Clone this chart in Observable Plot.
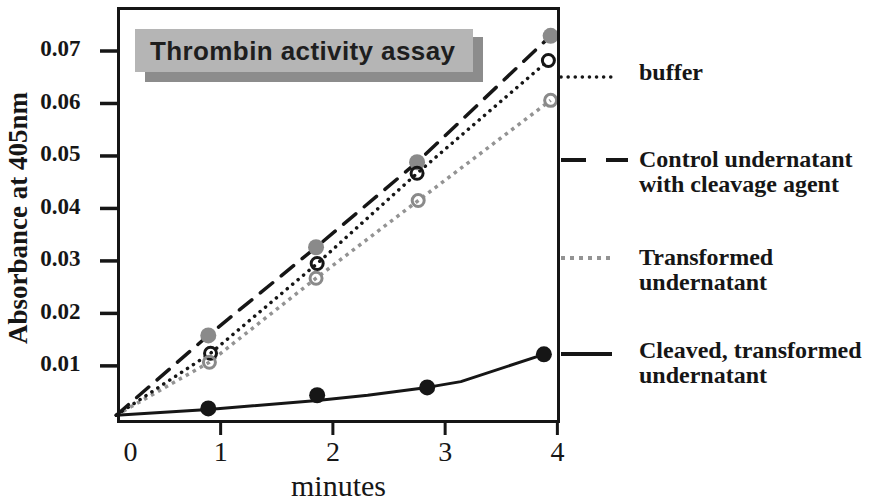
<!DOCTYPE html>
<html><head><meta charset="utf-8">
<script src="https://cdn.jsdelivr.net/npm/d3@7"></script>
<script src="https://cdn.jsdelivr.net/npm/@observablehq/plot@0.6"></script>
<style>
html,body{margin:0;padding:0;background:#fff;}
#wrap{position:relative;width:871px;height:502px;overflow:hidden;background:#fff;}
#overlay{position:absolute;left:0;top:0;pointer-events:none;}
</style></head><body><div id="wrap"></div>
<script>
// ---- text ----
const title = "Thrombin activity assay";
const yLabel = "Absorbance at 405nm";
const xLabel = "minutes";
const xTicks = [1, 2, 3, 4];
const xZeroLabel = ["0"];
const yTicks = [0.01, 0.02, 0.03, 0.04, 0.05, 0.06, 0.07];
const seriesNames = ["buffer", "Control undernatant\nwith cleavage agent", "Transformed\nundernatant", "Cleaved, transformed\nundernatant"];

// ---- values ----
const lineStartX = 0.07, lineStartY = 0.0006;
const bufferX = [0.91, 1.86, 2.75, 3.92];
const bufferY = [0.0124, 0.0295, 0.0467, 0.0682];
const controlX = [0.89, 1.85, 2.75, 3.94];
const controlY = [0.0158, 0.0326, 0.0488, 0.0729];
const transformedX = [0.90, 1.85, 2.76, 3.94];
const transformedY = [0.0107, 0.0267, 0.0415, 0.0606];
const cleavedX = [0.89, 1.86, 2.84, 3.88];
const cleavedY = [0.0019, 0.0044, 0.0059, 0.0122];
const cleavedLineX = [0.07, 0.89, 1.86, 2.31, 2.84, 3.14, 3.88];
const cleavedLineY = [0.0006, 0.0017, 0.0034, 0.0044, 0.0059, 0.0070, 0.0122];

const pts = (xs, ys) => xs.map((x, i) => ({x, y: ys[i]}));
const withStart = (xs, ys) => [{x: lineStartX, y: lineStartY}, ...pts(xs, ys)];

const INK = "#161616", GRAY = "#8a8a8a", GRAYL = "#939393";
const serif = "'Liberation Serif', 'Times New Roman', serif";

const chart = Plot.plot({
  width: 871, height: 502,
  marginTop: 8, marginLeft: 118, marginRight: 313, marginBottom: 81,
  x: {domain: [0.09, 4.01]},
  y: {domain: [-0.0006, 0.0781]},
  style: {fontFamily: serif, background: "white", color: INK, overflow: "visible"},
  marks: [
    Plot.line(withStart(transformedX, transformedY), {x: "x", y: "y", stroke: GRAYL, strokeWidth: 3.5, strokeDasharray: "3.5,4.5", strokeLinecap: "butt"}),
    Plot.line(withStart(bufferX, bufferY), {x: "x", y: "y", stroke: INK, strokeWidth: 3.5, strokeDasharray: "0.1,7", strokeLinecap: "round"}),
    Plot.line(withStart(controlX, controlY), {x: "x", y: "y", stroke: INK, strokeWidth: 3.5, strokeDasharray: "16,11"}),
    Plot.line(pts(cleavedLineX, cleavedLineY), {x: "x", y: "y", stroke: INK, strokeWidth: 3, curve: "linear"}),
    Plot.dot(pts(controlX, controlY), {x: "x", y: "y", r: 8, fill: GRAY, stroke: "none"}),
    Plot.dot(pts(bufferX, bufferY), {x: "x", y: "y", r: 6, fill: "none", stroke: INK, strokeWidth: 3}),
    Plot.dot(pts(transformedX, transformedY), {x: "x", y: "y", r: 6, fill: "none", stroke: GRAY, strokeWidth: 3}),
    Plot.dot(pts(cleavedX, cleavedY), {x: "x", y: "y", r: 8, fill: INK, stroke: "none"}),
    Plot.frame({stroke: INK, strokeWidth: 3}),
    Plot.axisY({ticks: yTicks, tickSize: 18, tickFormat: () => "", strokeWidth: 3.5, label: null}),
    Plot.axisY({ticks: yTicks, tickSize: 0, tickPadding: 38, tickFormat: d3.format(".2f"), fontSize: 23, fontWeight: "bold", fill: INK, dy: -2, label: null}),
    Plot.axisX({ticks: xTicks, tickSize: 14, tickPadding: 6, tickFormat: d3.format("d"), fontSize: 28, strokeWidth: 3, fill: INK, label: null}),
    Plot.text(xZeroLabel, {text: d => d, frameAnchor: "bottom-left", dx: 12, dy: 20, textAnchor: "middle", lineAnchor: "top", fontSize: 28, fill: INK}),
    Plot.text([xLabel], {text: d => d, frameAnchor: "bottom", dy: 74, lineAnchor: "bottom", fontSize: 30, fill: INK}),
    Plot.text([yLabel], {text: d => d, frameAnchor: "left", textAnchor: "middle", rotate: -90, dx: -100, dy: 3, fontSize: 27, fontWeight: "bold", fill: INK})
  ]
});
const wrap = document.getElementById("wrap");
wrap.appendChild(chart);

// ---- overlay: title box and legend ----
const ov = d3.select(wrap).append("svg").attr("id", "overlay").attr("width", 871).attr("height", 502);
ov.append("rect").attr("x", 145).attr("y", 37).attr("width", 338).attr("height", 45).attr("fill", "#8c8c8c");
ov.append("rect").attr("x", 135).attr("y", 29).attr("width", 338).attr("height", 43).attr("fill", "#b5b5b5");
ov.append("text").attr("x", 150).attr("y", 60).attr("font-family", "'Liberation Sans', Arial, sans-serif")
  .attr("font-weight", "bold").attr("font-size", 26).attr("fill", "#1e1e1e")
  .attr("textLength", 305).attr("lengthAdjust", "spacing").text(title);

const legendRows = [
  {lineY: 77, x2: 612, stroke: INK, width: 3.5, dash: "0.1,7", cap: "round", textY: 80},
  {lineY: 160, x2: 628, stroke: INK, width: 4, dash: "25,20", cap: "butt", textY: 167},
  {lineY: 258, x2: 612, stroke: GRAYL, width: 4, dash: "4,5", cap: "butt", textY: 265},
  {lineY: 354, x2: 612, stroke: INK, width: 4, dash: null, cap: "butt", textY: 358}
];
legendRows.forEach((row, i) => {
  const ln = ov.append("line").attr("x1", 561).attr("x2", row.x2).attr("y1", row.lineY).attr("y2", row.lineY)
    .attr("stroke", row.stroke).attr("stroke-width", row.width).attr("stroke-linecap", row.cap);
  if (row.dash) ln.attr("stroke-dasharray", row.dash);
  const t = ov.append("text").attr("x", 639).attr("y", row.textY).attr("font-family", serif)
    .attr("font-weight", "bold").attr("font-size", 24).attr("fill", INK);
  seriesNames[i].split("\n").forEach((s, j) => {
    t.append("tspan").attr("x", 639).attr("dy", j === 0 ? 0 : 24.5).text(s);
  });
});
</script></body></html>
